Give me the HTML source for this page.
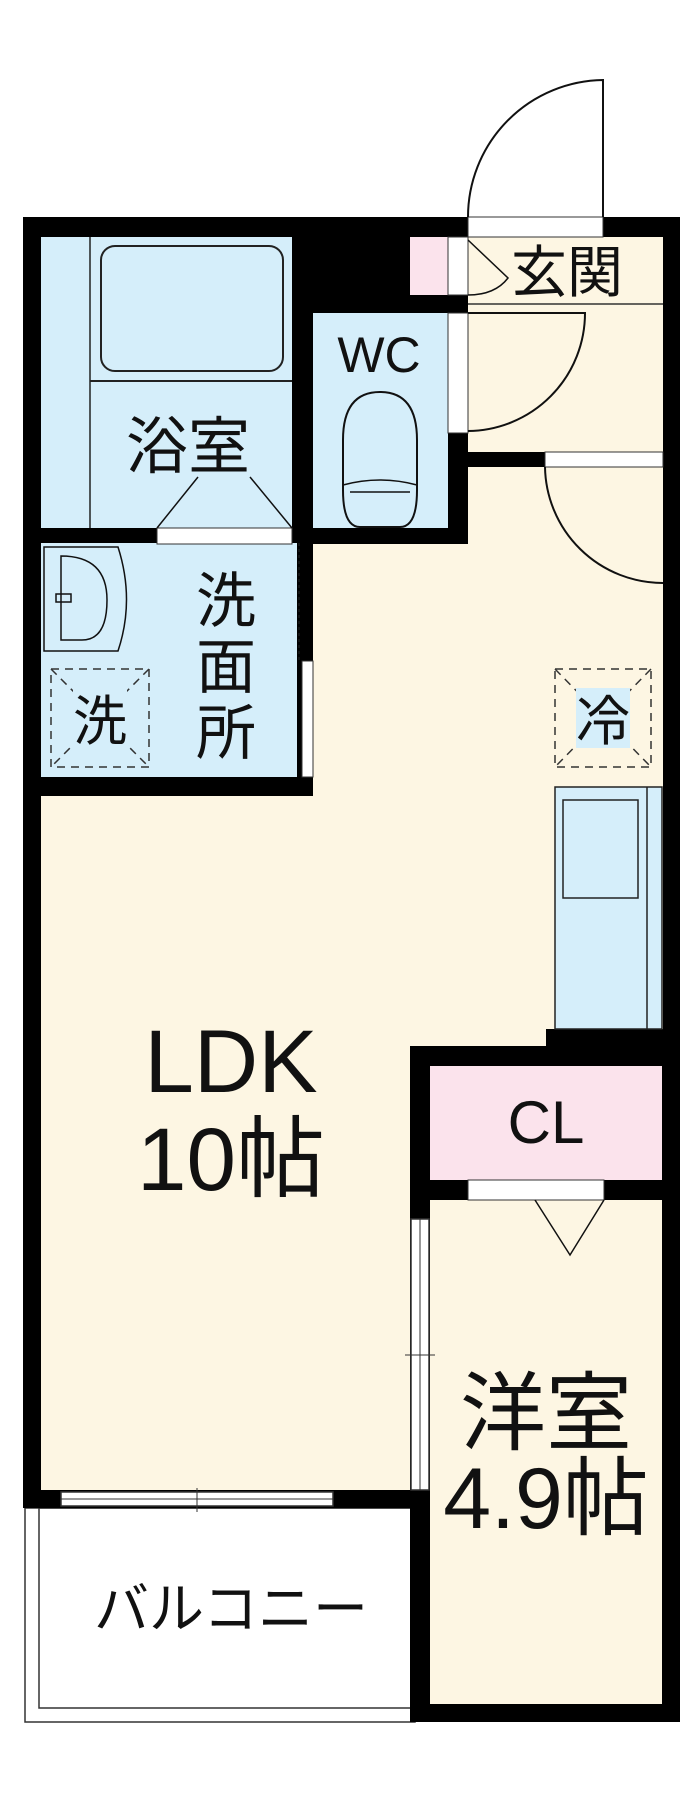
<!DOCTYPE html>
<html><head><meta charset="utf-8"><style>
html,body{margin:0;padding:0;background:#fff;width:700px;height:1793px;overflow:hidden}
svg{display:block}
text{font-family:"Liberation Sans","Noto Sans CJK JP",sans-serif;fill:#111}
</style></head><body>
<svg width="700" height="1793" viewBox="0 0 700 1793" xmlns="http://www.w3.org/2000/svg">
<rect x="25" y="1508" width="390" height="214" fill="#fff" stroke="#333" stroke-width="1.5"/>
<rect x="39" y="1508" width="376" height="200" fill="none" stroke="#333" stroke-width="1.5"/>
<rect x="23" y="217" width="657" height="1291" fill="#000"/>
<rect x="410" y="1046" width="270" height="676" fill="#000"/>
<rect x="41" y="237" width="251" height="291" fill="#d5eefa"/>
<rect x="313" y="313" width="135" height="215" fill="#d5eefa"/>
<rect x="410" y="237" width="38" height="58" fill="#fbe3ec"/>
<rect x="468" y="237" width="195" height="215" fill="#fdf6e3"/>
<rect x="41" y="543" width="256" height="234" fill="#d5eefa"/>
<path d="M468,467 L663,467 L663,1029 L546,1029 L546,1046 L410,1046 L410,1490 L41,1490 L41,796 L313,796 L313,544 L468,544 Z" fill="#fdf6e3"/>
<rect x="430" y="1066" width="232" height="114" fill="#fbe3ec"/>
<rect x="430" y="1200" width="232" height="504" fill="#fdf6e3"/>
<line x1="468" y1="304" x2="663" y2="304" stroke="#333" stroke-width="1.5"/>
<rect x="448" y="237" width="20" height="58" fill="#fff" stroke="#333" stroke-width="1"/>
<rect x="448" y="313" width="20" height="120" fill="#fff" stroke="#333" stroke-width="1"/>
<rect x="468" y="217" width="135" height="20" fill="#fff" stroke="#333" stroke-width="1"/>
<path d="M603,217 L603,80 A137,137 0 0 0 468,217" fill="none" stroke="#111" stroke-width="2"/>
<path d="M468,240 L508,278 Q495,295 468,295" fill="none" stroke="#111" stroke-width="1.5"/>
<path d="M468,313 L585,313 A118,118 0 0 1 468,431" fill="none" stroke="#111" stroke-width="2"/>
<rect x="545" y="452" width="118" height="15" fill="#fff" stroke="#333" stroke-width="1"/>
<path d="M545,467 A118,118 0 0 0 663,583" fill="none" stroke="#111" stroke-width="2"/>
<line x1="90" y1="237" x2="90" y2="528" stroke="#222" stroke-width="1.5"/>
<line x1="90" y1="381" x2="292" y2="381" stroke="#222" stroke-width="2"/>
<rect x="101" y="246" width="182" height="125" rx="14" fill="none" stroke="#222" stroke-width="2"/>
<rect x="157" y="528" width="135" height="16" fill="#fff" stroke="#333" stroke-width="1"/>
<path d="M157,528 L198,477 M292,528 L250,477" stroke="#111" stroke-width="1.5"/>
<path d="M343,490 L343,440 Q343,392 380,392 Q417,392 417,440 L417,490 Q417,527 400,527 L360,527 Q343,527 343,490 Z" fill="none" stroke="#111" stroke-width="2"/>
<path d="M343,485 Q380,475 417,485 M350,492 L410,492" fill="none" stroke="#111" stroke-width="1.5"/>
<path d="M44,547 L118,547 Q135,600 118,651 L44,651 Z" fill="none" stroke="#111" stroke-width="1.5"/>
<path d="M61,556 Q107,556 107,600 Q107,640 82,640 L61,640 Z" fill="none" stroke="#111" stroke-width="1.5"/>
<rect x="56" y="594" width="15" height="8" fill="none" stroke="#111" stroke-width="1.5"/>
<rect x="302" y="543" width="11" height="118" fill="#000"/>
<line x1="299" y1="543" x2="299" y2="661" stroke="#111" stroke-width="2" stroke-dasharray="3,3"/>
<rect x="302" y="661" width="11" height="116" fill="#fff" stroke="#333" stroke-width="1"/>
<g fill="none" stroke="#333" stroke-width="1.5" stroke-dasharray="8,6">
<rect x="51" y="669" width="98" height="98"/>
<line x1="51" y1="669" x2="149" y2="767"/><line x1="149" y1="669" x2="51" y2="767"/>
<rect x="555" y="669" width="96" height="98"/>
<line x1="555" y1="669" x2="651" y2="767"/><line x1="651" y1="669" x2="555" y2="767"/>
</g>
<rect x="73" y="688" width="54" height="60" fill="#d5eefa"/>
<rect x="576" y="688" width="54" height="60" fill="#d5eefa"/>
<rect x="555" y="787" width="107" height="242" fill="#d5eefa" stroke="#222" stroke-width="1.5"/>
<line x1="647" y1="787" x2="647" y2="1029" stroke="#222" stroke-width="1.5"/>
<rect x="563" y="800" width="75" height="98" fill="none" stroke="#222" stroke-width="1.5"/>
<rect x="468" y="1180" width="136" height="20" fill="#fff" stroke="#333" stroke-width="1"/>
<path d="M535,1200 L570,1255 L604,1200" fill="none" stroke="#111" stroke-width="1.5"/>
<rect x="411" y="1219" width="18" height="271" fill="#fff" stroke="#333" stroke-width="1.5"/>
<line x1="420" y1="1219" x2="420" y2="1490" stroke="#333" stroke-width="1"/>
<line x1="405" y1="1355" x2="435" y2="1355" stroke="#333" stroke-width="1"/>
<rect x="61" y="1492" width="272" height="14" fill="#fff" stroke="#333" stroke-width="1.5"/>
<line x1="61" y1="1499" x2="333" y2="1499" stroke="#333" stroke-width="1"/>
<line x1="197" y1="1488" x2="197" y2="1512" stroke="#333" stroke-width="1"/>
<text x="188" y="468" font-size="62" text-anchor="middle">浴室</text>
<text x="379" y="372" font-size="50" text-anchor="middle">WC</text>
<text x="567" y="292" font-size="56" text-anchor="middle">玄関</text>
<text x="226" y="622" font-size="60" text-anchor="middle">洗</text>
<text x="226" y="688" font-size="60" text-anchor="middle">面</text>
<text x="226" y="754" font-size="60" text-anchor="middle">所</text>
<text x="100" y="740" font-size="54" text-anchor="middle">洗</text>
<text x="603" y="740" font-size="54" text-anchor="middle">冷</text>
<text x="231" y="1092" font-size="89" text-anchor="middle">LDK</text>
<text x="231" y="1190" font-size="89" text-anchor="middle">10帖</text>
<text x="546" y="1143" font-size="60" text-anchor="middle">CL</text>
<text x="546" y="1443" font-size="86" text-anchor="middle">洋室</text>
<text x="546" y="1528" font-size="86" text-anchor="middle">4.9帖</text>
<text x="231" y="1628" font-size="55" text-anchor="middle">バルコニー</text>
</svg>
</body></html>
